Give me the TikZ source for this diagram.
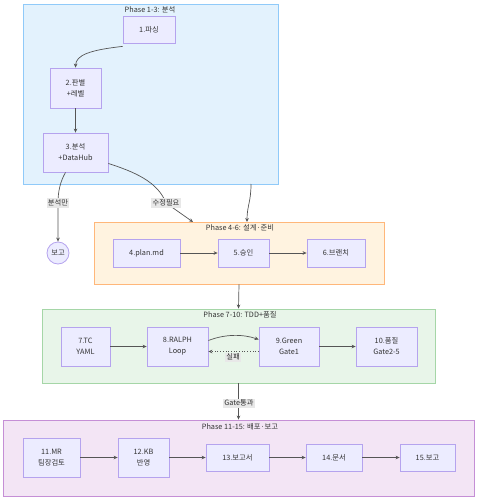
\documentclass[tikz,border=0pt]{standalone}
\usepackage{fontspec}
\setmainfont{Noto Sans CJK KR}
\usetikzlibrary{arrows.meta,calc}
\definecolor{nodefill}{HTML}{ECECFF}
\definecolor{nodeline}{HTML}{B5A3EE}
\definecolor{txt}{HTML}{333333}
\definecolor{edge}{HTML}{555555}
\definecolor{c1fill}{HTML}{E3F2FD}
\definecolor{c1line}{HTML}{90CAF9}
\definecolor{c2fill}{HTML}{FFF3E0}
\definecolor{c2line}{HTML}{FFB77A}
\definecolor{c3fill}{HTML}{E8F5E9}
\definecolor{c3line}{HTML}{A5D6A7}
\definecolor{c4fill}{HTML}{F3E5F5}
\definecolor{c4line}{HTML}{C58FD6}
\definecolor{lblbg}{HTML}{E8E8E8}
\tikzset{
  nd/.style={draw=nodeline, fill=nodefill, line width=0.8pt, text=txt, align=center,
    font=\fontsize{7.3}{11}\selectfont, inner sep=0pt},
  clus/.style={line width=0.9pt, inner sep=0pt},
  ctitle/.style={text=txt, font=\fontsize{7.3}{8}\selectfont, inner sep=0pt},
  arr/.style={draw=edge, line width=0.7pt, -{Stealth[length=4pt,width=3.6pt]}},
  lbl/.style={fill=lblbg, text=txt, font=\fontsize{7.3}{8}\selectfont, inner sep=1.2pt}
}
\begin{document}
\begin{tikzpicture}[x=1pt,y=-1pt]
\useasboundingbox (0,0) rectangle (479,500);
% clusters
\node[clus, draw=c1line, fill=c1fill, minimum width=255pt, minimum height=180pt] (C1) at (150.5,94) {};
\node[clus, draw=c2line, fill=c2fill, minimum width=290pt, minimum height=62pt] (C2) at (239,253) {};
\node[clus, draw=c3line, fill=c3fill, minimum width=393pt, minimum height=74pt] (C3) at (238.5,346) {};
\node[clus, draw=c4line, fill=c4fill, minimum width=471pt, minimum height=76pt] (C4) at (238.5,458) {};
\node[ctitle] (T1) at (150,10) {Phase 1-3: 분석};
\node[ctitle] (T2) at (240,228) {Phase 4-6: 설계·준비};
\node[ctitle] (T3) at (240,315) {Phase 7-10: TDD+품질};
\node[ctitle] (T4) at (240,427) {Phase 11-15: 배포·보고};
% phase 1-3
\node[nd, minimum width=52pt, minimum height=27pt] (n1) at (149,29.5) {1.파싱};
\node[nd, minimum width=51pt, minimum height=40pt] (n2) at (75.5,88) {2.판별\\+레벨};
\node[nd, minimum width=65pt, minimum height=39pt] (n3) at (75.5,152.5) {3.분석\\+DataHub};
\node[nd, circle, minimum size=22pt] (rep) at (58,253) {보고};
% phase 4-6
\node[nd, minimum width=67pt, minimum height=28pt] (n4) at (146.5,253) {4.plan.md};
\node[nd, minimum width=51pt, minimum height=28pt] (n5) at (243.5,253) {5.승인};
\node[nd, minimum width=58pt, minimum height=28pt] (n6) at (336,253) {6.브랜치};
% phase 7-10
\node[nd, minimum width=49pt, minimum height=39pt] (n7) at (85.5,346.5) {7.TC\\YAML};
\node[nd, minimum width=61pt, minimum height=39pt] (n8) at (177.5,346.5) {8.RALPH\\Loop};
\node[nd, minimum width=60pt, minimum height=39pt] (n9) at (289,346.5) {9.Green\\Gate1};
\node[nd, minimum width=61pt, minimum height=39pt] (n10) at (386.5,346.5) {10.품질\\Gate2-5};
% phase 11-15
\node[nd, minimum width=57pt, minimum height=39pt] (n11) at (51.5,457.5) {11.MR\\팀장검토};
\node[nd, minimum width=51pt, minimum height=39pt] (n12) at (143.5,457.5) {12.KB\\반영};
\node[nd, minimum width=63pt, minimum height=27pt] (n13) at (237.5,457.5) {13.보고서};
\node[nd, minimum width=56pt, minimum height=27pt] (n14) at (334,457.5) {14.문서};
\node[nd, minimum width=55pt, minimum height=27pt] (n15) at (427.5,457.5) {15.보고};
% edges phase 1-3
\draw[arr] (n1.south west) ++(0,-3pt) .. controls (90,50) and (76,55) .. (n2.north);
\draw[arr] (n2) -- (n3);
\coordinate (a1) at (58,203);
\draw[arr] ([xshift=-10pt]n3.south) .. controls (60,182) and (58,192) .. (a1) -- (rep.north);
\node[lbl] (l1) at (a1) {분석만};
\coordinate (a2) at (166,203);
\draw[arr] ([yshift=-11pt]n3.east) .. controls (135,172) and (158,182) .. (a2) -- (193,222);
\node[lbl] (l2) at (a2) {수정필요};
\draw[arr] (251,184) .. controls (251,202) and (247,206) .. (247,222);
% phase 4-6
\draw[arr] (n4) -- (n5);
\draw[arr] (n5) -- (n6);
\draw[arr] (C2.south) -- (C3.north);
% phase 7-10
\draw[arr] (n7) -- (n8);
\draw[arr] ([yshift=6pt]n8.east) .. controls (225,334) and (243,334) .. ([yshift=7pt]n9.west);
\draw[draw=edge, line width=0.7pt, dotted, -{Stealth[length=4pt,width=3.6pt]}] ([yshift=-5pt]n9.west) -- ([yshift=-5pt]n8.east);
\node[lbl] (l3) at (233,357) {실패};
\draw[arr] (n9) -- (n10);
\coordinate (a3) at (239,403);
\draw[arr] (C3.south) -- (C4.north);
\node[lbl] (l4) at (a3) {Gate통과};
% phase 11-15
\draw[arr] (n11) -- (n12);
\draw[arr] (n12) -- (n13);
\draw[arr] (n13) -- (n14);
\draw[arr] (n14) -- (n15);
\end{tikzpicture}
\end{document}
